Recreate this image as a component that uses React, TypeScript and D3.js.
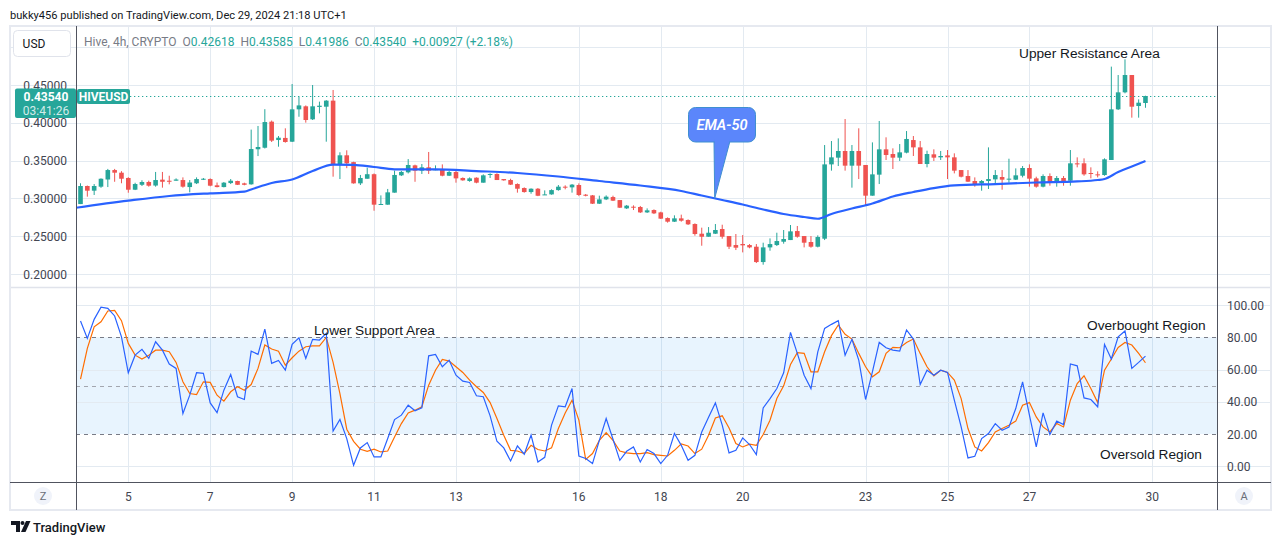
import { useEffect, useRef } from 'react';
import * as d3 from 'd3';

const W = 1281;
const H = 545;

// 4h candles, first one Dec 3 20:00 — [open, high, low, close]
const firstCandle = Date.UTC(2024, 11, 3, 20);
const candles: [number, number, number, number][] = [
  [0.2925, 0.3200, 0.2925, 0.3164], [0.3164, 0.3170, 0.3023, 0.3102], [0.3102, 0.3190, 0.3045, 0.3164],
  [0.3155, 0.3265, 0.3140, 0.3260], [0.3250, 0.3390, 0.3150, 0.3375], [0.3375, 0.3390, 0.3220, 0.3340],
  [0.3340, 0.3360, 0.3200, 0.3260], [0.3270, 0.3280, 0.3075, 0.3115], [0.3115, 0.3207, 0.3110, 0.3190],
  [0.3180, 0.3240, 0.3164, 0.3217], [0.3217, 0.3235, 0.3155, 0.3168], [0.3170, 0.3350, 0.3155, 0.3243],
  [0.3248, 0.3350, 0.3142, 0.3220], [0.3234, 0.3300, 0.3186, 0.3220], [0.3234, 0.3265, 0.3234, 0.3250],
  [0.3243, 0.3278, 0.3142, 0.3155], [0.3150, 0.3243, 0.3080, 0.3210], [0.3200, 0.3278, 0.3190, 0.3256],
  [0.3248, 0.3270, 0.3243, 0.3260], [0.3256, 0.3265, 0.3160, 0.3168], [0.3173, 0.3210, 0.3146, 0.3150],
  [0.3150, 0.3217, 0.3146, 0.3208], [0.3203, 0.3256, 0.3190, 0.3234], [0.3230, 0.3234, 0.3177, 0.3180],
  [0.3199, 0.3208, 0.3173, 0.3180], [0.3186, 0.3910, 0.3182, 0.3653], [0.3650, 0.3958, 0.3560, 0.3680],
  [0.3670, 0.4180, 0.3660, 0.4010], [0.4015, 0.4030, 0.3746, 0.3764], [0.3772, 0.3825, 0.3684, 0.3803],
  [0.3800, 0.3927, 0.3737, 0.3746], [0.3750, 0.4513, 0.3746, 0.4178], [0.4178, 0.4346, 0.4080, 0.4230],
  [0.4218, 0.4230, 0.4002, 0.4037], [0.4046, 0.4500, 0.4037, 0.4218], [0.4210, 0.4280, 0.4125, 0.4226],
  [0.4213, 0.4300, 0.3750, 0.4293], [0.4293, 0.4434, 0.3287, 0.3450], [0.3450, 0.3610, 0.3256, 0.3570],
  [0.3570, 0.3636, 0.3400, 0.3464], [0.3480, 0.3485, 0.3195, 0.3199], [0.3199, 0.3310, 0.3177, 0.3270],
  [0.3260, 0.3406, 0.3260, 0.3320], [0.3320, 0.3330, 0.2837, 0.2917], [0.2917, 0.3040, 0.2915, 0.2926],
  [0.2917, 0.3125, 0.2915, 0.3080], [0.3076, 0.3367, 0.3076, 0.3310], [0.3305, 0.3363, 0.3296, 0.3350],
  [0.3345, 0.3520, 0.3330, 0.3442], [0.3437, 0.3446, 0.3220, 0.3367], [0.3367, 0.3455, 0.3323, 0.3411],
  [0.3411, 0.3614, 0.3323, 0.3367], [0.3376, 0.3437, 0.3372, 0.3385], [0.3385, 0.3450, 0.3292, 0.3300],
  [0.3300, 0.3363, 0.3296, 0.3349], [0.3349, 0.3363, 0.3208, 0.3265], [0.3270, 0.3278, 0.3234, 0.3239],
  [0.3230, 0.3278, 0.3220, 0.3265], [0.3274, 0.3278, 0.3200, 0.3208], [0.3208, 0.3318, 0.3208, 0.3305],
  [0.3310, 0.3332, 0.3270, 0.3323], [0.3323, 0.3332, 0.3243, 0.3243], [0.3256, 0.3256, 0.3234, 0.3239],
  [0.3243, 0.3260, 0.3177, 0.3182], [0.3190, 0.3199, 0.3076, 0.3128], [0.3137, 0.3146, 0.3076, 0.3084],
  [0.3084, 0.3133, 0.3062, 0.3128], [0.3128, 0.3137, 0.3030, 0.3035], [0.3045, 0.3106, 0.3045, 0.3053],
  [0.3053, 0.3120, 0.3049, 0.3110], [0.3110, 0.3177, 0.3102, 0.3155], [0.3155, 0.3173, 0.3120, 0.3142],
  [0.3146, 0.3190, 0.3076, 0.3182], [0.3177, 0.3199, 0.3030, 0.3045], [0.3049, 0.3058, 0.3027, 0.3035],
  [0.3040, 0.3045, 0.2926, 0.2930], [0.2930, 0.3036, 0.2926, 0.2987], [0.2987, 0.3040, 0.2978, 0.3023],
  [0.3018, 0.3036, 0.2965, 0.2970], [0.2978, 0.2978, 0.2873, 0.2877], [0.2868, 0.2913, 0.2860, 0.2904],
  [0.2890, 0.2908, 0.2846, 0.2882], [0.2886, 0.2900, 0.2807, 0.2815], [0.2815, 0.2868, 0.2807, 0.2842],
  [0.2846, 0.2855, 0.2793, 0.2802], [0.2815, 0.2824, 0.2728, 0.2732], [0.2740, 0.2749, 0.2679, 0.2692],
  [0.2692, 0.2776, 0.2688, 0.2736], [0.2736, 0.2785, 0.2692, 0.2705], [0.2714, 0.2723, 0.2648, 0.2657],
  [0.2661, 0.2670, 0.2507, 0.2529], [0.2533, 0.2613, 0.2374, 0.2493], [0.2493, 0.2621, 0.2493, 0.2546],
  [0.2533, 0.2661, 0.2529, 0.2582], [0.2595, 0.2652, 0.2467, 0.2493], [0.2502, 0.2502, 0.2330, 0.2361],
  [0.2383, 0.2529, 0.2317, 0.2348], [0.2397, 0.2515, 0.2286, 0.2379], [0.2383, 0.2396, 0.2340, 0.2352],
  [0.2361, 0.2396, 0.2145, 0.2158], [0.2158, 0.2414, 0.2123, 0.2352], [0.2352, 0.2471, 0.2308, 0.2396],
  [0.2383, 0.2546, 0.2370, 0.2436], [0.2427, 0.2582, 0.2401, 0.2463], [0.2449, 0.2648, 0.2449, 0.2564],
  [0.2568, 0.2635, 0.2480, 0.2493], [0.2502, 0.2502, 0.2352, 0.2414], [0.2423, 0.2502, 0.2348, 0.2361],
  [0.2361, 0.2511, 0.2352, 0.2489], [0.2467, 0.3706, 0.2449, 0.3450], [0.3450, 0.3759, 0.3367, 0.3543],
  [0.3539, 0.3794, 0.3428, 0.3627], [0.3627, 0.4050, 0.3367, 0.3433], [0.3433, 0.3706, 0.3142, 0.3627],
  [0.3627, 0.3927, 0.3256, 0.3433], [0.3442, 0.3442, 0.2904, 0.3036], [0.3036, 0.3741, 0.3036, 0.3318],
  [0.3314, 0.4024, 0.3190, 0.3649], [0.3649, 0.3808, 0.3508, 0.3574], [0.3587, 0.3662, 0.3389, 0.3539],
  [0.3539, 0.3719, 0.3495, 0.3609], [0.3605, 0.3891, 0.3596, 0.3786], [0.3772, 0.3825, 0.3561, 0.3675],
  [0.3675, 0.3759, 0.3455, 0.3455], [0.3455, 0.3631, 0.3411, 0.3587], [0.3583, 0.3649, 0.3495, 0.3539],
  [0.3543, 0.3627, 0.3508, 0.3561], [0.3569, 0.3640, 0.3256, 0.3543], [0.3543, 0.3596, 0.3331, 0.3367],
  [0.3375, 0.3375, 0.3278, 0.3287], [0.3296, 0.3375, 0.3217, 0.3221], [0.3230, 0.3278, 0.3155, 0.3177],
  [0.3199, 0.3243, 0.3102, 0.3230], [0.3230, 0.3675, 0.3124, 0.3256], [0.3252, 0.3375, 0.3199, 0.3309],
  [0.3283, 0.3375, 0.3115, 0.3248], [0.3252, 0.3525, 0.3208, 0.3261], [0.3248, 0.3397, 0.3243, 0.3305],
  [0.3300, 0.3428, 0.3278, 0.3402], [0.3402, 0.3450, 0.3155, 0.3261], [0.3265, 0.3287, 0.3142, 0.3155],
  [0.3155, 0.3318, 0.3146, 0.3296], [0.3296, 0.3331, 0.3168, 0.3208], [0.3217, 0.3296, 0.3155, 0.3270],
  [0.3270, 0.3296, 0.3168, 0.3226], [0.3234, 0.3640, 0.3168, 0.3464], [0.3464, 0.3543, 0.3411, 0.3450],
  [0.3464, 0.3530, 0.3300, 0.3318], [0.3336, 0.3411, 0.3265, 0.3327], [0.3318, 0.3358, 0.3278, 0.3309],
  [0.3309, 0.3530, 0.3300, 0.3517], [0.3508, 0.4743, 0.3508, 0.4178], [0.4178, 0.4632, 0.4169, 0.4403],
  [0.4403, 0.4840, 0.4390, 0.4632], [0.4632, 0.4632, 0.4068, 0.4213], [0.4222, 0.4310, 0.4068, 0.4266],
  [0.42618, 0.43585, 0.41986, 0.43540],
];

// stochastic %K and %D, one value per candle
const stochK = [
  90.1, 79.3, 91.1, 98.6, 97.9, 93.2, 80.3,
  58.0, 68.9, 72.5, 66.9, 77.2, 72.0, 63.4, 60.7, 32.7, 44.1,
  58.0, 57.6, 39.3, 33.3, 47.2, 56.9, 43.1, 41.4, 71.4, 69.4,
  85.1, 63.8, 65.6, 59.6, 75.6, 79.7, 66.9, 78.7, 78.3, 82.4,
  21.9, 29.0, 17.2, 0.6, 11.4, 14.7, 5.8, 5.8, 17.2, 29.0,
  31.7, 37.9, 34.4, 36.2, 68.5, 69.4, 61.7, 65.8,
  56.5, 52.8, 52.0, 43.7, 43.1, 31.3, 15.5, 11.4, 3.3, 12.6,
  7.5, 19.3, 2.7, 5.6, 25.5, 37.5, 36.9, 48.2, 6.4, 4.8,
  1.7, 16.1, 29.6, 16.8, 3.7, 9.3, 12.0, 2.7, 10.4, 7.9,
  1.7, 6.8, 20.3, 13.0, 3.7, 6.8, 21.3, 30.4, 39.3, 25.5,
  8.3, 9.9, 17.6, 13.5, 7.2, 36.2, 42.0, 48.2, 58.0, 83.0,
  70.0, 56.5, 48.2, 71.0, 85.5, 88.0, 90.3, 68.9, 78.7, 65.8,
  41.4, 58.6, 76.8, 73.5,
  72.0, 71.4, 84.5, 78.9, 50.7, 59.6, 56.5, 59.6, 58.2, 41.0,
  24.4, 5.2, 6.2, 17.2, 20.3, 26.5, 22.4, 24.4, 35.8, 52.4,
  31.7, 12.0, 33.1, 19.7, 28.0, 25.9, 63.4, 62.3, 42.4, 41.4,
  36.9, 75.6, 66.5, 80.3, 83.9, 60.7, 64.4, 68.3,
];
const stochD = [
  54.0, 73.1, 86.5, 89.6, 96.3, 96.7, 90.3,
  76.2, 68.9, 66.5, 68.9, 72.0, 72.0, 71.0, 64.4, 52.4, 45.1,
  44.5, 52.4, 52.0, 44.1, 40.4, 46.2, 49.3, 47.2, 50.7, 60.7,
  75.2, 72.7, 71.4, 62.7, 67.3, 71.4, 74.1, 74.7, 74.7, 79.9,
  64.4, 45.1, 23.0, 15.5, 10.6, 9.3, 10.6, 8.9, 9.5, 18.2,
  26.5, 33.1, 34.8, 36.9, 50.3, 59.6, 66.3, 65.2,
  61.7, 58.2, 53.4, 49.3, 45.8, 39.5, 29.6, 19.3, 9.9, 9.5,
  7.9, 13.0, 10.4, 9.5, 11.4, 23.4, 33.1, 41.0, 28.6, 4.3,
  7.9, 16.1, 20.9, 16.1, 9.5, 8.3, 7.9, 7.9, 8.5, 7.2,
  6.8, 6.4, 9.9, 13.9, 12.6, 7.9, 10.6, 19.3, 30.0, 31.3,
  23.8, 14.1, 12.0, 13.7, 13.0, 19.7, 28.6, 42.0, 49.9, 63.1,
  70.4, 70.0, 58.6, 58.6, 71.0, 81.0, 87.6, 81.8, 78.9, 70.0,
  61.7, 55.5, 58.6, 70.0,
  73.7, 73.5, 76.8, 78.9, 70.0, 61.7, 56.1, 59.6, 58.2, 53.4,
  42.0, 23.4, 12.0, 9.5, 14.7, 21.3, 23.4, 25.5, 28.0, 37.9,
  39.5, 30.6, 24.4, 21.3, 26.5, 24.4, 41.0, 51.3, 56.1, 48.2,
  39.5, 59.6, 66.5, 73.7, 76.8, 75.2, 70.0, 64.2,
];

// EMA-50: [candle index, value]
const emaPts: [number, number][] = [
  [-1, 0.2872], [7, 0.2970], [13, 0.3032], [19, 0.3067], [24, 0.3089], [25, 0.3118],
  [28, 0.3204], [31, 0.3250], [34, 0.3362], [37, 0.3448], [40, 0.3444], [43, 0.3415],
  [46, 0.3385], [52, 0.3385], [58, 0.3362], [64, 0.3336], [70, 0.3290], [76, 0.3230],
  [82, 0.3171], [88, 0.3098], [91, 0.3038], [94, 0.2979], [97, 0.2919], [100, 0.2853],
  [103, 0.2794], [106, 0.2754], [108, 0.2731], [110, 0.2794], [113, 0.2866], [116, 0.2932],
  [119, 0.3025], [122, 0.3085], [125, 0.3137], [128, 0.3171], [134, 0.3190], [140, 0.3210],
  [146, 0.3224], [149, 0.3243], [150, 0.3257], [152, 0.3349], [154, 0.3422], [156, 0.3495],
];

const priceTicks = [0.2, 0.25, 0.3, 0.35, 0.4, 0.45];
const priceGrid = [0.2, 0.25, 0.3, 0.35, 0.4, 0.45, 0.5];
const stochTicks = [0, 20, 40, 60, 80, 100];
const stochGrid = [0, 40, 60, 100];
const dayTicks = [5, 7, 9, 11, 13, 16, 18, 20, 23, 25, 27, 30];
const lastPrice = 0.4354;

const UP = '#26a69a';
const DOWN = '#ef5350';
const GRID = '#e3eaf1';
const FONT = 'Roboto, "Liberation Sans", Arial, sans-serif';

export default function App() {
  const svgRef = useRef<SVGSVGElement>(null);

  useEffect(() => {
    if (!svgRef.current) return;
    const svg = d3.select(svgRef.current);
    svg.selectAll('*').remove();
    svg.attr('font-family', FONT);

    const fx0 = 10, fx1 = 1271, top = 26, bottom = 510;
    const px0 = 76, px1 = 1217;
    const split = 287.5, axisTop = 482.5;

    const x = d3.scaleUtc()
      .domain([new Date(Date.UTC(2024, 11, 5)), new Date(Date.UTC(2024, 11, 30))])
      .range([128.3, 1152.3]);
    const xi = (i: number) => x(new Date(firstCandle + i * 4 * 3600 * 1000));
    const y = d3.scaleLinear().domain([0.2, 0.45]).range([274, 85]);
    const ys = d3.scaleLinear().domain([0, 100]).range([466.3, 305]);

    svg.append('rect').attr('width', W).attr('height', H).attr('fill', '#fff');

    const defs = svg.append('defs');
    defs.append('clipPath').attr('id', 'pclip').append('rect')
      .attr('x', px0).attr('y', top).attr('width', px1 - px0).attr('height', split - top);
    defs.append('clipPath').attr('id', 'sclip').append('rect')
      .attr('x', px0).attr('y', split).attr('width', px1 - px0).attr('height', axisTop - split);

    // grids
    svg.append('g').selectAll('line').data(priceGrid).join('line')
      .attr('x1', fx0).attr('x2', fx1)
      .attr('y1', d => Math.round(y(d)) + 0.5).attr('y2', d => Math.round(y(d)) + 0.5)
      .attr('stroke', GRID);
    svg.append('g').selectAll('line').data(dayTicks).join('line')
      .attr('x1', d => Math.round(x(new Date(Date.UTC(2024, 11, d)))) + 0.5)
      .attr('x2', d => Math.round(x(new Date(Date.UTC(2024, 11, d)))) + 0.5)
      .attr('y1', top).attr('y2', axisTop)
      .attr('stroke', GRID);

    // stochastic band
    svg.append('rect')
      .attr('x', px0).attr('width', px1 - px0)
      .attr('y', ys(80)).attr('height', ys(20) - ys(80))
      .attr('fill', 'rgba(33,150,243,0.1)');
    svg.append('g').selectAll('line').data(stochGrid).join('line')
      .attr('x1', px0).attr('x2', fx1)
      .attr('y1', d => Math.round(ys(d)) + 0.5).attr('y2', d => Math.round(ys(d)) + 0.5)
      .attr('stroke', GRID);
    svg.append('g').selectAll('line').data([80, 50, 20]).join('line')
      .attr('x1', px0).attr('x2', px1)
      .attr('y1', d => Math.round(ys(d)) + 0.5).attr('y2', d => Math.round(ys(d)) + 0.5)
      .attr('stroke', d => (d === 50 ? '#a3a6af' : '#787b86'))
      .attr('stroke-dasharray', '4,4');

    // pane separator
    svg.append('line').attr('x1', fx0).attr('x2', fx1).attr('y1', split).attr('y2', split)
      .attr('stroke', '#e0e3eb').attr('stroke-width', 1.5);

    // candles
    const cg = svg.append('g').attr('clip-path', 'url(#pclip)');
    const bodyW = 4.6;
    candles.forEach(([o, h, l, c], i) => {
      const cx = xi(i);
      const col = c >= o ? UP : DOWN;
      cg.append('line')
        .attr('x1', cx).attr('x2', cx).attr('y1', y(h)).attr('y2', y(l))
        .attr('stroke', col).attr('stroke-width', 1);
      const yt = y(Math.max(o, c));
      const hb = Math.max(1, Math.abs(y(o) - y(c)));
      cg.append('rect')
        .attr('x', cx - bodyW / 2).attr('y', yt).attr('width', bodyW).attr('height', hb)
        .attr('fill', col);
    });

    // EMA-50
    const emaLine = d3.line<[number, number]>()
      .x(d => xi(d[0])).y(d => y(d[1]))
      .curve(d3.curveMonotoneX);
    cg.append('path').datum(emaPts)
      .attr('d', emaLine)
      .attr('fill', 'none').attr('stroke', '#2962ff').attr('stroke-width', 2.2);

    // last price line
    svg.append('line')
      .attr('x1', 130).attr('x2', px1).attr('y1', Math.round(y(lastPrice)) + 0.5).attr('y2', Math.round(y(lastPrice)) + 0.5)
      .attr('stroke', UP).attr('stroke-width', 1).attr('stroke-dasharray', '1.3,2.7');

    // stochastic lines
    const sg = svg.append('g').attr('clip-path', 'url(#sclip)');
    const sLine = d3.line<number>().x((_, i) => xi(i)).y(d => ys(d));
    sg.append('path').datum(stochD).attr('d', sLine)
      .attr('fill', 'none').attr('stroke', '#ff6d00').attr('stroke-width', 1.2);
    sg.append('path').datum(stochK).attr('d', sLine)
      .attr('fill', 'none').attr('stroke', '#2962ff').attr('stroke-width', 1.2);

    // frame and separators
    svg.append('rect')
      .attr('x', fx0).attr('y', top).attr('width', fx1 - fx0).attr('height', bottom - top)
      .attr('fill', 'none').attr('stroke', '#e6e9f0').attr('stroke-width', 2);
    [px0, px1].forEach(xx => {
      svg.append('line').attr('x1', xx + 0.5).attr('x2', xx + 0.5).attr('y1', top).attr('y2', bottom)
        .attr('stroke', '#50535e');
    });
    svg.append('line').attr('x1', fx0).attr('x2', fx1).attr('y1', axisTop).attr('y2', axisTop)
      .attr('stroke', '#50535e');

    // price axis labels (left)
    svg.append('g').selectAll('text').data(priceTicks).join('text')
      .attr('x', 67).attr('y', d => y(d) + 4.5)
      .attr('text-anchor', 'end').attr('font-size', 12).attr('fill', '#434651')
      .text(d => d.toFixed(5));

    // stochastic axis labels (right)
    svg.append('g').selectAll('text').data(stochTicks).join('text')
      .attr('x', 1227).attr('y', d => ys(d) + 4.5)
      .attr('font-size', 12).attr('fill', '#434651')
      .text(d => d.toFixed(2));

    // time axis labels
    svg.append('g').selectAll('text').data(dayTicks).join('text')
      .attr('x', d => x(new Date(Date.UTC(2024, 11, d))))
      .attr('y', 500.5)
      .attr('text-anchor', 'middle').attr('font-size', 12).attr('fill', '#434651')
      .text(d => String(d));

    // Z / A buttons
    [[43, 'Z'], [1244, 'A']].forEach(([cx, t]) => {
      svg.append('circle').attr('cx', cx as number).attr('cy', 496).attr('r', 9).attr('fill', '#f0f3fa');
      svg.append('text').attr('x', cx as number).attr('y', 500).attr('text-anchor', 'middle')
        .attr('font-size', 11).attr('fill', '#6a6d78').text(t as string);
    });

    // last price labels
    svg.append('rect').attr('x', 15).attr('y', 88.5).attr('width', 61).attr('height', 29.5).attr('rx', 2).attr('fill', UP);
    svg.append('text').attr('x', 46).attr('y', 100.5).attr('text-anchor', 'middle')
      .attr('font-size', 12).attr('font-weight', 700).attr('fill', '#fff').text('0.43540');
    svg.append('text').attr('x', 46).attr('y', 114.5).attr('text-anchor', 'middle')
      .attr('font-size', 12).attr('fill', '#fff').attr('fill-opacity', 0.8).text('03:41:26');
    svg.append('rect').attr('x', 77).attr('y', 89).attr('width', 53).attr('height', 15).attr('rx', 2).attr('fill', UP);
    svg.append('text').attr('x', 103.5).attr('y', 101).attr('text-anchor', 'middle')
      .attr('font-size', 12).attr('font-weight', 700).attr('fill', '#fff').text('HIVEUSD');

    // annotations
    const ann = [
      { t: 'Upper Resistance Area', x: 1019, y: 58 },
      { t: 'Lower Support Area', x: 314, y: 335 },
      { t: 'Overbought Region', x: 1087, y: 330 },
      { t: 'Oversold Region', x: 1100, y: 459 },
    ];
    svg.append('g').selectAll('text').data(ann).join('text')
      .attr('x', d => d.x).attr('y', d => d.y)
      .attr('font-family', '"Liberation Sans", Arial, sans-serif')
      .attr('font-size', 13.7).attr('fill', '#131722')
      .text(d => d.t);

    // EMA-50 callout, pointer down to the EMA line
    const tipX = xi(92.9), tipY = y(0.3002);
    svg.append('path')
      .attr('d', `M714,141 L730,141 L${tipX},${tipY} Z`)
      .attr('fill', '#5b86fb').attr('stroke', '#3f8fd0').attr('stroke-width', 1);
    svg.append('rect').attr('x', 688.5).attr('y', 107.5).attr('width', 67).attr('height', 34.5).attr('rx', 7)
      .attr('fill', '#5b86fb').attr('stroke', '#3f8fd0').attr('stroke-width', 1);
    svg.append('rect').attr('x', 714.8).attr('y', 139).attr('width', 14.4).attr('height', 4).attr('fill', '#5b86fb');
    svg.append('text').attr('x', 722).attr('y', 129.5).attr('text-anchor', 'middle')
      .attr('font-size', 14.5).attr('font-style', 'italic').attr('font-weight', 600).attr('fill', '#fff')
      .text('EMA-50');

    // header
    svg.append('text').attr('x', 10).attr('y', 19).attr('font-size', 11.1).attr('fill', '#131722')
      .text('bukky456 published on TradingView.com, Dec 29, 2024 21:18 UTC+1');

    svg.append('rect').attr('x', 13.5).attr('y', 30.5).attr('width', 57).attr('height', 26).attr('rx', 4)
      .attr('fill', '#fff').attr('stroke', '#e0e3eb');
    svg.append('text').attr('x', 34).attr('y', 48).attr('text-anchor', 'middle')
      .attr('font-size', 12).attr('fill', '#131722').text('USD');

    const leg = svg.append('text').attr('x', 84).attr('y', 46).attr('font-size', 12);
    leg.append('tspan').attr('fill', '#787b86').text('Hive, 4h, CRYPTO');
    const parts: [string, string][] = [['O', '0.42618'], ['H', '0.43585'], ['L', '0.41986'], ['C', '0.43540']];
    parts.forEach(([k, v]) => {
      leg.append('tspan').attr('dx', 6).attr('fill', '#787b86').text(k);
      leg.append('tspan').attr('fill', UP).text(v);
    });
    leg.append('tspan').attr('dx', 6).attr('fill', UP).text('+0.00927 (+2.18%)');

    // logo
    const lg = svg.append('g').attr('fill', '#131722');
    lg.append('path').attr('d', 'M11,521 h9 v11 h-4 v-7 h-5 Z');
    lg.append('circle').attr('cx', 22.5).attr('cy', 523).attr('r', 2);
    lg.append('path').attr('d', 'M26,521 h4.5 l-5,11 h-4.5 Z');
    svg.append('text').attr('x', 33).attr('y', 532).attr('font-size', 13).attr('font-weight', 500)
      .attr('fill', '#131722').text('TradingView');
  }, []);

  return (
    <svg
      ref={svgRef}
      width={W}
      height={H}
      style={{ position: 'absolute', left: 0, top: 0, display: 'block' }}
    />
  );
}
